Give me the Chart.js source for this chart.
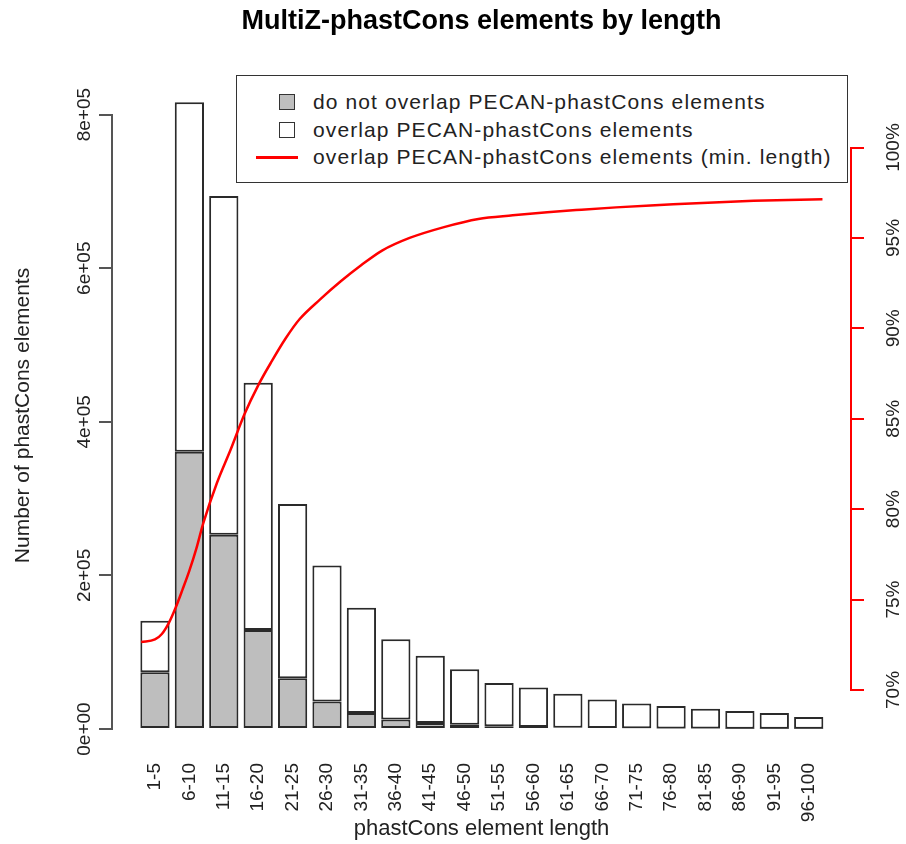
<!DOCTYPE html>
<html>
<head>
<meta charset="utf-8">
<title>MultiZ-phastCons elements by length</title>
<script src="https://cdn.jsdelivr.net/npm/chart.js@4.4.1/dist/chart.umd.min.js"></script>
<style>
  body{margin:0;background:#fff;}
  #wrap{position:relative;width:906px;height:844px;}
  /* legend box like R's legend("topright") */
  #legend{position:absolute;left:236px;top:75px;width:612px;height:108px;box-sizing:border-box;
          border:1.5px solid #333;background:#fff;color:#222;
          font:21px "Liberation Sans",Arial,sans-serif;letter-spacing:1.1px;}
  .row{position:absolute;left:0;right:0;height:28px;line-height:28px;}
  .row .t{position:absolute;left:76px;white-space:nowrap;}
  .sw{position:absolute;left:42px;top:6px;width:16px;height:16px;box-sizing:border-box;border:1.5px solid #333;}
  .ln{position:absolute;left:19px;top:12.5px;width:42px;height:3px;background:#ff0000;}
</style>
</head>
<body>
<div id="wrap">
  <canvas id="c" width="906" height="844"></canvas>
  <div id="legend">
    <div class="row" style="top:12px"><div class="sw" style="background:#bebebe"></div><span class="t">do not overlap PECAN-phastCons elements</span></div>
    <div class="row" style="top:40px"><div class="sw" style="background:#fff"></div><span class="t">overlap PECAN-phastCons elements</span></div>
    <div class="row" style="top:67px"><div class="ln"></div><span class="t">overlap PECAN-phastCons elements (min. length)</span></div>
  </div>
</div>
<script>
/* ---- data ---- */
const bins = ['1-5','6-10','11-15','16-20','21-25','26-30','31-35','36-40','41-45','46-50',
              '51-55','56-60','61-65','66-70','71-75','76-80','81-85','86-90','91-95','96-100'];
// elements that do NOT overlap PECAN-phastCons (grey part)
const noOverlap = [74000,361000,253000,129000,66000,36000,21000,12500,8000,5500,
                   3500,2500,1800,1300,1000,800,600,500,400,300];
// elements that overlap (white part, stacked on top)
const overlap   = [67000,455000,441000,322000,227000,177000,137000,104500,87500,72500,
                   56500,51500,44200,37300,32400,29200,25900,23000,20600,15300];
// red curve: % overlapping, by minimum element length
const minLen     = [1,3,4,5,6,7,8,9,10,12,14,16,18,20,22,24,27,30,33,36,40,45,50,55,60,65,70,75,80,85,90,95,100];
const overlapPct = [72.65,72.8,73.1,73.7,74.55,75.55,76.6,77.8,79.2,81.45,83.3,85.25,86.85,88.2,89.45,90.5,
                    91.6,92.6,93.5,94.3,95.0,95.6,96.05,96.25,96.42,96.56,96.69,96.8,96.89,96.98,97.05,97.1,97.14];
const yTickVals = [0,200000,400000,600000,800000];
const yTicks    = ['0e+00','2e+05','4e+05','6e+05','8e+05'];

const FONT = '"Liberation Sans", Arial, sans-serif';
Chart.defaults.font.family = FONT;
Chart.defaults.color = '#222';

// R-style axis spines: only between first and last tick
const spines = {
  id:'spines',
  afterDraw(chart){
    const {ctx, scales:{y, y2}} = chart;
    ctx.save();
    ctx.lineWidth = 2;
    ctx.strokeStyle = '#555';
    ctx.beginPath(); ctx.moveTo(y.right-1, y.getPixelForValue(0)); ctx.lineTo(y.right-1, y.getPixelForValue(800000)); ctx.stroke();
    ctx.strokeStyle = '#ff0000';
    ctx.beginPath(); ctx.moveTo(y2.left+1, y2.getPixelForValue(70)); ctx.lineTo(y2.left+1, y2.getPixelForValue(100)); ctx.stroke();
    ctx.restore();
  }
};

const barStyle = {type:'bar', borderColor:'#2a2a2a', borderWidth:2, borderSkipped:false,
                  categoryPercentage:1, barPercentage:0.85, yAxisID:'y', order:1};

new Chart('c', {
  data:{
    datasets:[
      {...barStyle, label:'do not overlap PECAN-phastCons elements',
       data: noOverlap.map((v,i)=>({x:i, y:v})), backgroundColor:'#bebebe'},
      {...barStyle, label:'overlap PECAN-phastCons elements',
       data: overlap.map((v,i)=>({x:i, y:v})), backgroundColor:'#ffffff'},
      {type:'line', label:'overlap PECAN-phastCons elements (min. length)',
       data: minLen.map((l,i)=>({x:(l-3)/5, y:overlapPct[i]})),   // length -> bar position
       yAxisID:'y2', borderColor:'#ff0000', borderWidth:2.5, pointRadius:0,
       cubicInterpolationMode:'monotone', order:0}
    ]
  },
  options:{
    responsive:false, animation:false, devicePixelRatio:1,
    layout:{padding:0},
    plugins:{
      legend:{display:false}, tooltip:{enabled:false},
      title:{display:true, text:'MultiZ-phastCons elements by length', fullSize:false,
             color:'#000', font:{size:27, weight:'bold'}, padding:{top:5, bottom:39.6}}
    },
    scales:{
      x:{type:'linear', stacked:true, offset:false, min:-1.22, max:20.2,
         grid:{display:false, drawTicks:false, offset:false}, border:{display:false},
         ticks:{stepSize:1, includeBounds:false, autoSkip:false, minRotation:90, maxRotation:90,
                padding:9, font:{size:19}, callback:v=>bins[v] ?? ''},
         title:{display:true, text:'phastCons element length', font:{size:22}, padding:{top:0, bottom:1.5}},
         afterFit:s=>{ s.height = 90; }},
      y:{position:'left', stacked:true, min:-32500, max:849000,
         grid:{drawOnChartArea:false, color:'#555', lineWidth:2, tickLength:14}, border:{display:false},
         afterBuildTicks:s=>{ s.ticks = yTickVals.map(v=>({value:v})); },
         ticks:{minRotation:90, maxRotation:90, crossAlign:'center',
                padding:-12, font:{size:19}, callback:v=>yTicks[yTickVals.indexOf(v)] ?? ''},
         title:{display:true, text:'Number of phastCons elements', font:{size:21}, padding:{top:11, bottom:0}},
         afterFit:s=>{ s.width = 113; }},
      y2:{position:'right', min:66.46, max:103.9,
          grid:{drawOnChartArea:false, color:'#ff0000', lineWidth:2, tickLength:14}, border:{display:false},
          ticks:{stepSize:5, includeBounds:false, minRotation:90, maxRotation:90, crossAlign:'center',
                 padding:5, font:{size:19}, callback:v=>v+'%'},
          afterFit:s=>{ s.width = 56; }}
    }
  },
  plugins:[spines]
});
</script>
</body>
</html>
